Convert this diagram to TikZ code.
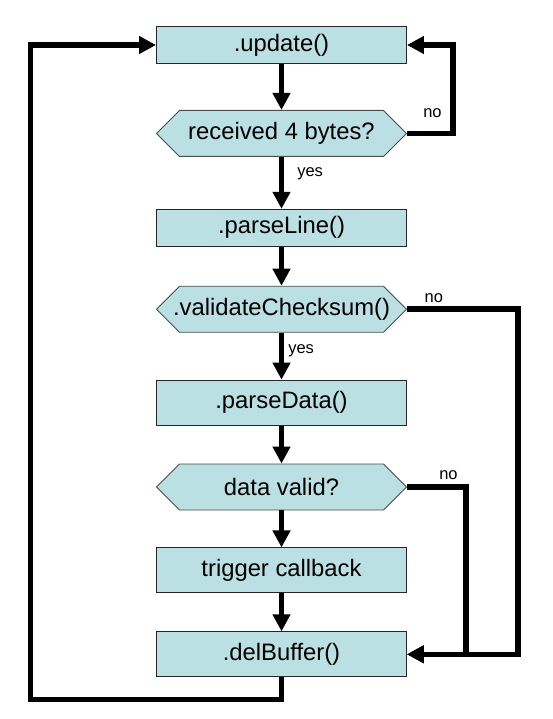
\documentclass[tikz,border=0pt]{standalone}
\usepackage{fontspec}
\setmainfont{Liberation Sans}
\usepackage{tikz}
\usetikzlibrary{positioning,arrows.meta,shapes.symbols}
\definecolor{boxcyan}{RGB}{187,224,227}
% text of a test may run into its points
\newcommand{\testtext}[1]{\makebox[0pt]{#1}}

\begin{document}
\begin{tikzpicture}[
      >={Triangle[length=17pt,width=17pt]},
      stepbox/.style ={draw=black!85, fill=boxcyan, line width=0.9pt,
                       minimum width=250pt, minimum height=37pt, inner sep=0pt,
                       font=\fontsize{23.8}{28}\selectfont},
      tallbox/.style ={stepbox, minimum height=45pt},
      test/.style    ={signal, signal to=west and east, signal pointer angle=90,
                       draw=black!70, fill=boxcyan, line width=0.9pt,
                       minimum width=250pt, minimum height=46pt, inner sep=0pt,
                       font=\fontsize{23.8}{28}\selectfont},
      arr/.style     ={->, line width=5.5pt, draw=black},
      lbl/.style     ={font=\fontsize{16.5}{18}\selectfont, inner sep=2pt}
    ]
    \useasboundingbox (0,0) rectangle (552pt,-719pt);
    % --- main column ---
    \node[stepbox] (update) at (281.5pt,-45pt) {.update()};
    \node[test,    below=46pt of update] (recv)   {\testtext{received 4 bytes?}};
    \node[stepbox, below=52pt of recv]   (pline)  {.parseLine()};
    \node[test,    below=39pt of pline]  (chk)    {\testtext{.validateChecksum()}};
    \node[tallbox, below=47pt of chk]    (pdata)  {.parseData()};
    \node[test,    below=38pt of pdata]  (valid)  {\testtext{data valid?}};
    \node[tallbox, below=37pt of valid]  (trig)   {trigger callback};
    \node[tallbox, below=38pt of trig]   (delbuf) {.delBuffer()};
    % --- straight arrows ---
    \draw[arr] (update) -- (recv);
    \draw[arr] (recv) -- node[lbl, pos=0.32, right=11pt]{yes} (pline);
    \draw[arr] (pline) -- (chk);
    \draw[arr] (chk) -- node[lbl, pos=0.38, right=2pt]{yes} (pdata);
    \draw[arr] (pdata) -- (valid);
    \draw[arr] (valid) -- (trig);
    \draw[arr] (trig) -- (delbuf);
    % --- "no" branches ---
    \draw[arr] (recv.east) -- node[lbl, pos=0.55, above=11pt]{no} ++(46pt,0)
      |- (update.east);
    \draw[arr] (chk.east) -- node[lbl, pos=0.24, above=2pt]{no} ++(111pt,0)
      |- (delbuf.east);
    \draw[arr] (valid.east) -- node[lbl, pos=0.7, above=3pt]{no} ++(59pt,0)
      |- (delbuf.east);
    % --- back to the start ---
    \draw[arr] (delbuf.south) |- ++(-251pt,-22pt) |- (update.west);
  \end{tikzpicture}
\end{document}
